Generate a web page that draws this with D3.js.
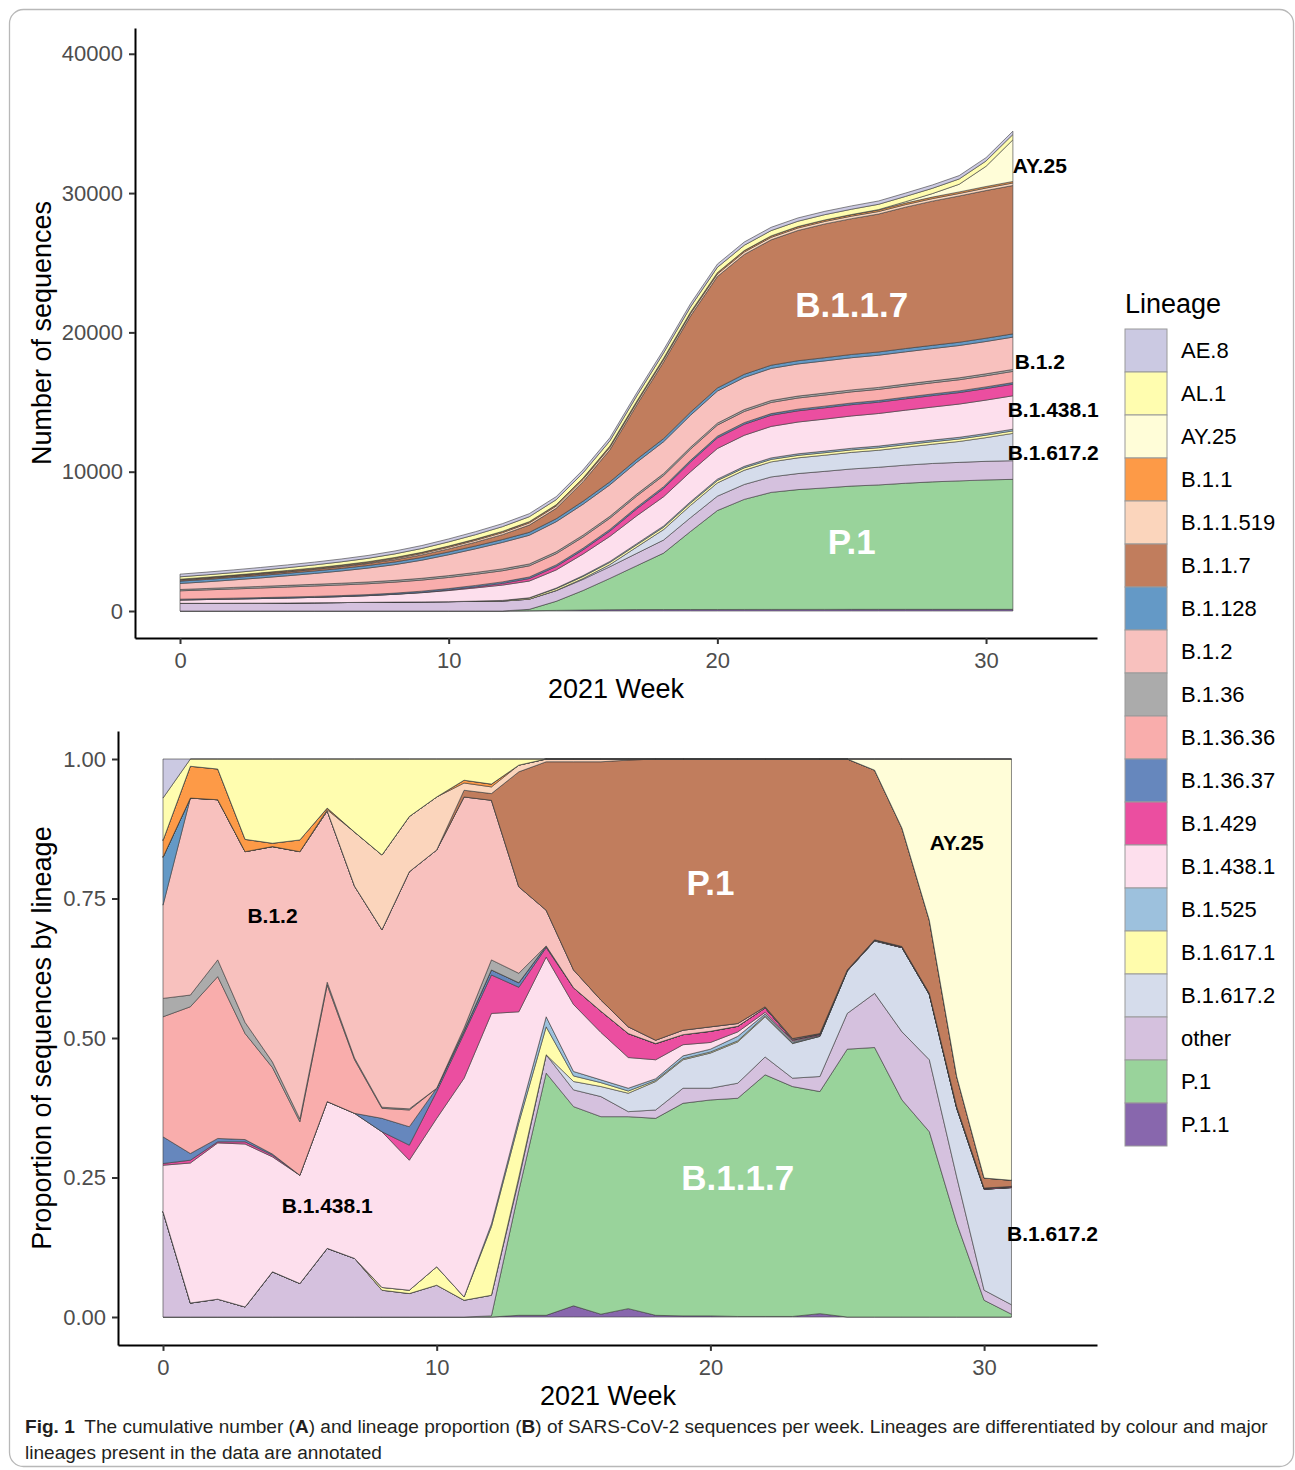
<!DOCTYPE html>
<html>
<head>
<meta charset="utf-8">
<script src="https://d3js.org/d3.v7.min.js"></script>
<style>
  body { margin: 0; background: #fff; }
  svg { display: block; font-family: "Liberation Sans", Arial, Helvetica, sans-serif; }
  .axis path, .axis line { stroke: #000; stroke-width: 2px; }
  .axis line { stroke: #333; }
  .axis text { fill: #4d4d4d; font-size: 22px; font-family: "Liberation Sans", Arial, sans-serif; }
</style>
</head>
<body>
<script>
  // ---- data ----
  var weeks = [0,1,2,3,4,5,6,7,8,9,10,11,12,13,14,15,16,17,18,19,20,21,22,23,24,25,26,27,28,29,30,31];

  // legend order (ggplot draws the first level on top of the stack)
  var lineages = ["AE.8","AL.1","AY.25","B.1.1","B.1.1.519","B.1.1.7","B.1.128","B.1.2","B.1.36",
                  "B.1.36.36","B.1.36.37","B.1.429","B.1.438.1","B.1.525","B.1.617.1","B.1.617.2",
                  "other","P.1","P.1.1"];
  var colours = ["#CBC9E2","#FFFDAF","#FFFDD8","#FD9A47","#FBD5BC","#C17D5D","#6499C6","#F8C1BE","#ABABAB",
                 "#F9ADAC","#6687BD","#EB4EA0","#FDDFED","#9DC1DD","#FFFCAC","#D5DCEB",
                 "#D5C1DE","#99D39B","#8867AD"];

  // panel A: cumulative number of sequences per week
  var cumAE8     = [190,192,194,196,198,200,202,204,206,208,210,212,214,216,218,220,222,224,226,228,230,232,234,235,236,237,238,239,240,240,240,240];
  var cumAL1     = [170,175,180,190,200,215,230,245,260,280,300,320,340,355,365,370,372,374,376,378,380,380,380,380,380,380,380,380,380,380,380,380];
  var cumAY25    = [0,0,0,0,0,0,0,0,0,0,0,0,0,0,0,0,0,0,0,0,0,0,0,0,0,10,30,100,250,550,1450,2990];
  var cumB11     = [40,50,60,65,70,75,78,80,82,84,86,88,90,92,94,96,98,100,101,102,103,104,105,106,107,108,109,110,110,110,110,110];
  var cumB11519  = [30,30,30,31,32,33,40,50,80,100,120,135,145,155,160,165,170,172,174,175,176,177,178,179,180,180,180,180,180,180,180,180];
  var cumB117    = [70,75,80,90,100,110,125,140,160,185,220,270,350,520,750,1400,2300,3900,5500,6900,8000,8600,9000,9350,9600,9750,9900,10150,10350,10500,10600,10650];
  var cumB1128   = [170,172,174,176,178,180,183,186,190,194,198,202,206,210,213,216,218,220,222,224,226,228,230,231,232,233,234,235,235,235,235,235];
  var cumB12     = [430,480,540,610,690,780,880,1000,1130,1300,1500,1700,1900,2060,2160,2220,2260,2280,2290,2295,2300,2302,2304,2306,2308,2310,2312,2314,2316,2318,2320,2320];
  var cumB136    = [95,100,110,115,118,120,122,124,126,128,130,132,134,135,136,137,138,139,140,140,140,140,140,140,140,140,140,140,140,140,140,140];
  var cumB13636  = [600,630,660,690,720,745,765,780,790,795,800,800,800,800,800,800,800,800,800,800,800,800,800,800,800,800,800,800,800,800,800,800];
  var cumB13637  = [60,62,64,66,68,70,72,74,80,90,100,105,110,112,115,117,118,119,120,120,120,120,120,120,120,120,120,120,120,120,120,120];
  var cumB1429   = [0,0,0,0,0,0,0,0,5,20,40,70,120,180,250,300,380,500,600,700,760,790,800,805,808,810,812,815,820,825,828,830];
  var cumB14381  = [240,270,300,330,360,390,430,480,560,660,800,950,1100,1200,1300,1550,1800,2000,2100,2150,2200,2230,2260,2280,2300,2320,2340,2355,2370,2385,2395,2400];
  var cumB1525   = [0,0,0,0,0,0,0,0,0,0,0,0,0,10,40,60,70,80,90,95,100,105,110,112,114,116,118,120,120,120,120,120];
  var cumB16171  = [0,0,0,0,0,0,0,0,0,0,0,20,50,90,130,150,160,165,170,172,174,175,176,177,178,179,180,180,180,180,180,180];
  var cumB16172  = [0,0,0,0,0,0,0,0,0,0,0,0,0,0,20,60,150,450,750,880,950,1020,1080,1130,1160,1190,1220,1290,1380,1500,1700,1960];
  var cumOther   = [550,555,560,565,575,590,605,625,640,655,670,690,710,730,760,800,840,890,940,990,1030,1070,1110,1150,1190,1230,1270,1300,1320,1330,1335,1340];
  var cumP1      = [0,0,0,0,0,0,0,0,0,0,0,0,0,100,650,1400,2250,3150,4050,5600,7100,7900,8400,8600,8720,8850,8930,9050,9150,9220,9290,9330];
  var cumP11     = [0,0,0,0,0,0,0,0,0,0,0,0,0,20,45,70,90,100,105,108,110,112,114,115,116,118,120,120,120,120,120,120];

  // panel B: proportion of sequences by lineage per week
  var propAE8    = [0.070,0,0,0,0,0,0,0,0,0,0,0,0,0,0,0,0,0,0,0,0,0,0,0,0,0,0,0,0,0,0,0];
  var propAL1    = [0.076,0.013,0.018,0.144,0.151,0.145,0.088,0.131,0.172,0.103,0.068,0.038,0.045,0.011,0,0,0,0,0,0,0,0,0,0,0,0,0,0,0,0,0,0];
  var propAY25   = [0,0,0,0,0,0,0,0,0,0,0,0,0,0,0,0,0,0,0,0,0,0,0,0,0,0,0.020,0.124,0.289,0.569,0.751,0.755];
  var propB11    = [0.030,0.057,0.055,0.022,0.006,0.021,0.003,0,0,0,0,0.005,0.005,0,0,0,0,0,0,0,0,0,0,0,0,0,0,0,0,0,0,0];
  var propB11519 = [0,0,0,0,0,0,0.002,0.097,0.134,0.099,0.095,0.013,0.012,0.012,0.005,0.005,0.005,0.002,0,0,0,0,0,0,0,0,0,0,0,0,0,0];
  var propB117   = [0,0,0,0,0,0,0,0,0,0,0,0.012,0.012,0.206,0.266,0.373,0.427,0.478,0.504,0.486,0.480,0.474,0.444,0.501,0.492,0.378,0.304,0.212,0.131,0.054,0.018,0.011];
  var propB1128  = [0.086,0,0,0,0,0,0,0,0,0,0,0,0,0,0,0,0,0,0,0,0,0,0,0,0,0,0,0,0,0,0,0];
  var propB12    = [0.167,0.353,0.287,0.306,0.386,0.479,0.307,0.308,0.318,0.425,0.427,0.414,0.286,0.155,0.064,0.032,0.020,0.012,0.006,0.008,0.008,0.005,0.002,0.002,0.001,0,0,0,0,0,0,0];
  var propB136   = [0.033,0.021,0.030,0.020,0.010,0.005,0.005,0.003,0.002,0.002,0,0.005,0.018,0.017,0,0,0,0,0,0,0,0,0,0,0,0,0,0,0,0,0,0];
  var propB13636 = [0.215,0.263,0.290,0.190,0.155,0.096,0.209,0.096,0.018,0.030,0,0,0,0,0,0,0,0,0,0,0,0,0,0,0,0,0,0,0,0,0,0];
  var propB13637 = [0.048,0.012,0.006,0.004,0.002,0,0,0,0.024,0.033,0.006,0.005,0.009,0.008,0.003,0,0,0,0,0,0,0,0,0,0,0,0,0,0,0,0,0];
  var propB1429  = [0.003,0.005,0.002,0.004,0.003,0,0,0,0,0.027,0.048,0.080,0.069,0.044,0.017,0.030,0.038,0.043,0.029,0.018,0.020,0.010,0.008,0.002,0.002,0.001,0.001,0.002,0.002,0.003,0.002,0.002];
  var propB14381 = [0.083,0.251,0.280,0.292,0.206,0.194,0.263,0.260,0.279,0.233,0.266,0.392,0.377,0.191,0.107,0.120,0.085,0.055,0.034,0.020,0.012,0.008,0.003,0.002,0.001,0.001,0.001,0,0,0,0,0];
  var propB1525  = [0,0,0,0,0,0,0,0,0,0,0,0,0.005,0.008,0.018,0.008,0.005,0.005,0.003,0.005,0.005,0.008,0.003,0.002,0.001,0,0,0,0,0,0,0];
  var propB16171 = [0,0,0,0,0,0,0,0,0.005,0.006,0.033,0.006,0.123,0.097,0.050,0.010,0.007,0.004,0.002,0.002,0.002,0.002,0.002,0.001,0,0,0,0,0,0,0,0];
  var propB16172 = [0,0,0,0,0,0,0,0,0,0,0,0,0,0.005,0,0.015,0.018,0.033,0.051,0.051,0.063,0.074,0.072,0.062,0.072,0.076,0.094,0.151,0.117,0.123,0.181,0.210];
  var propOther  = [0.189,0.025,0.032,0.018,0.081,0.060,0.123,0.105,0.048,0.042,0.057,0.030,0.037,0.020,0.033,0.030,0.036,0.009,0.015,0.027,0.021,0.027,0.032,0.015,0.027,0.064,0.097,0.122,0.129,0.083,0.018,0.017];
  var propP1     = [0,0,0,0,0,0,0,0,0,0,0,0,0.002,0.223,0.434,0.357,0.354,0.344,0.353,0.381,0.387,0.391,0.433,0.412,0.398,0.480,0.483,0.389,0.332,0.168,0.030,0.005];
  var propP11    = [0,0,0,0,0,0,0,0,0,0,0,0,0,0.003,0.003,0.020,0.005,0.015,0.003,0.002,0.002,0.001,0.001,0.001,0.006,0,0,0,0,0,0,0];

  var ticksA = [0, 10000, 20000, 30000, 40000];
  var ticksB = [0, 0.25, 0.5, 0.75, 1];
  var ticksWeek = [0, 10, 20, 30];

  // annotations (week, value)
  var labelsA = [
    {text: "B.1.1.7", week: 25, value: 22000, big: true},
    {text: "P.1", week: 25, value: 5000, big: true},
    {text: "AY.25", week: 32, value: 31950},
    {text: "B.1.2", week: 32, value: 17950},
    {text: "B.1.438.1", week: 32.5, value: 14500},
    {text: "B.1.617.2", week: 32.5, value: 11400}
  ];
  var labelsB = [
    {text: "P.1", week: 20, value: 0.778, big: true},
    {text: "B.1.1.7", week: 21, value: 0.25, big: true},
    {text: "B.1.2", week: 4, value: 0.72},
    {text: "B.1.438.1", week: 6, value: 0.2},
    {text: "AY.25", week: 29, value: 0.85},
    {text: "B.1.617.2", week: 32.5, value: 0.15}
  ];

  var captionParts = [
    {text: "Fig. 1", bold: true},
    {text: "\u2002The cumulative number (", bold: false},
    {text: "A", bold: true},
    {text: ") and lineage proportion (", bold: false},
    {text: "B", bold: true},
    {text: ") of SARS-CoV-2 sequences per week. Lineages are differentiated by colour and major", bold: false}
  ];
  var captionLine2 = "lineages present in the data are annotated";

  // tables the stack needs
  var cumulative = {"AE.8": cumAE8, "AL.1": cumAL1, "AY.25": cumAY25, "B.1.1": cumB11, "B.1.1.519": cumB11519,
    "B.1.1.7": cumB117, "B.1.128": cumB1128, "B.1.2": cumB12, "B.1.36": cumB136, "B.1.36.36": cumB13636,
    "B.1.36.37": cumB13637, "B.1.429": cumB1429, "B.1.438.1": cumB14381, "B.1.525": cumB1525,
    "B.1.617.1": cumB16171, "B.1.617.2": cumB16172, "other": cumOther, "P.1": cumP1, "P.1.1": cumP11};
  var proportion = {"AE.8": propAE8, "AL.1": propAL1, "AY.25": propAY25, "B.1.1": propB11, "B.1.1.519": propB11519,
    "B.1.1.7": propB117, "B.1.128": propB1128, "B.1.2": propB12, "B.1.36": propB136, "B.1.36.36": propB13636,
    "B.1.36.37": propB13637, "B.1.429": propB1429, "B.1.438.1": propB14381, "B.1.525": propB1525,
    "B.1.617.1": propB16171, "B.1.617.2": propB16172, "other": propOther, "P.1": propP1, "P.1.1": propP11};

  function toRows(table) {
    return weeks.map(function(w, i) {
      var row = {week: w};
      lineages.forEach(function(l) { row[l] = table[l][i]; });
      return row;
    });
  }

  // ---- drawing ----
  var width = 1295, height = 1470;
  var svg = d3.select('body').append('svg').attr('width', width).attr('height', height);

  // figure frame
  svg.append('rect')
    .attr('x', 9.5).attr('y', 9.5).attr('width', 1284).attr('height', 1457).attr('rx', 14)
    .attr('fill', 'none').attr('stroke', '#b8b8b8').attr('stroke-width', 1.3);

  var colourScale = d3.scaleOrdinal(lineages, colours);
  var stackKeys = lineages.slice().reverse(); // bottom layer first

  function drawPanel(rows, x, y, offset, ticks, fmt, labels) {
    var stack = d3.stack().keys(stackKeys).offset(offset);
    var series = stack(rows);
    var area = d3.area()
      .x(function(d) { return x(d.data.week); })
      .y0(function(d) { return y(d[0]); })
      .y1(function(d) { return y(d[1]); });

    var g = svg.append('g');
    g.selectAll('path')
      .data(series)
      .join('path')
      .attr('fill', function(d) { return colourScale(d.key); })
      .attr('stroke', 'rgba(60,60,60,0.6)')
      .attr('stroke-width', 1)
      .attr('stroke-linejoin', 'round')
      .attr('d', area);

    var r = x.range(), b = y.range();
    svg.append('g').attr('class', 'axis')
      .attr('transform', 'translate(' + [0, b[0]] + ')')
      .call(d3.axisBottom(x).tickValues(ticksWeek).tickSize(6).tickSizeOuter(0).tickPadding(8));
    svg.append('g').attr('class', 'axis')
      .attr('transform', 'translate(' + [r[0], 0] + ')')
      .call(d3.axisLeft(y).tickValues(ticks).tickFormat(fmt).tickSize(6).tickSizeOuter(0).tickPadding(6));

    labels.forEach(function(l) {
      svg.append('text')
        .attr('x', x(l.week)).attr('y', y(l.value)).attr('dy', '0.36em')
        .attr('text-anchor', 'middle')
        .attr('font-weight', 'bold')
        .attr('font-size', l.big ? 35 : 21)
        .attr('fill', l.big ? '#fff' : '#000')
        .text(l.text);
    });
  }

  // panel A
  var xA = d3.scaleLinear().domain([-1.675, 34.13]).range([135, 1097]);
  var yA = d3.scaleLinear().domain([-1938, 41850]).range([638, 28]);
  drawPanel(toRows(cumulative), xA, yA, d3.stackOffsetNone, ticksA, d3.format('d'), labelsA);

  // panel B
  var xB = d3.scaleLinear().domain([-1.644, 34.125]).range([118, 1097]);
  var yB = d3.scaleLinear().domain([-0.05, 1.05]).range([1344.9, 731.1]);
  drawPanel(toRows(proportion), xB, yB, d3.stackOffsetExpand, ticksB, d3.format('.2f'), labelsB);

  // axis titles
  function title(txt, x, y, rotate) {
    svg.append('text')
      .attr('transform', 'translate(' + [x, y] + ')' + (rotate ? ' rotate(-90)' : ''))
      .attr('text-anchor', 'middle')
      .attr('font-size', 27)
      .attr('fill', '#000')
      .text(txt);
  }
  title('2021 Week', 616, 698, false);
  title('Number of sequences', 51, 333, true);
  title('2021 Week', 608, 1405, false);
  title('Proportion of sequences by lineage', 51, 1038, true);

  // legend
  var legend = svg.append('g').attr('transform', 'translate(1125,329)');
  legend.append('text').attr('x', 0).attr('y', -16).attr('font-size', 27).attr('fill', '#000').text('Lineage');
  var items = legend.selectAll('g.item').data(lineages).join('g')
    .attr('transform', function(d, i) { return 'translate(0,' + (i * 43) + ')'; });
  items.append('rect')
    .attr('width', 42).attr('height', 43)
    .attr('fill', function(d) { return colourScale(d); })
    .attr('stroke', '#9a9a9a').attr('stroke-width', 1);
  items.append('text')
    .attr('x', 56).attr('y', 21.5).attr('dy', '0.36em')
    .attr('font-size', 22).attr('fill', '#000')
    .text(function(d) { return d; });

  // caption: one text element, font size chosen so the first line fits the frame
  var capFont = '"Liberation Sans Narrow", "Liberation Sans", Arial, sans-serif';
  var cap = svg.append('text')
    .attr('x', 25).attr('y', 1433)
    .attr('font-family', capFont)
    .attr('font-size', 20).attr('fill', '#231f20');
  cap.selectAll('tspan').data(captionParts).join('tspan')
    .attr('font-weight', function(d) { return d.bold ? 'bold' : null; })
    .text(function(d) { return d.text; });
  var capWidth = cap.node().getComputedTextLength();
  var capSize = Math.min(20, 20 * 1243 / capWidth);
  cap.attr('font-size', capSize);
  svg.append('text')
    .attr('x', 25).attr('y', 1459)
    .attr('font-family', capFont)
    .attr('font-size', capSize).attr('fill', '#231f20')
    .text(captionLine2);
</script>
</body>
</html>
